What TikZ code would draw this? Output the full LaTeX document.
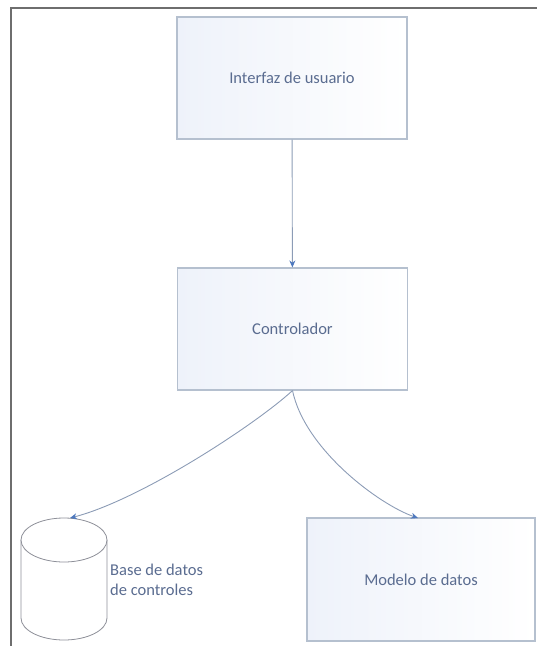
\documentclass[tikz,border=0pt]{standalone}
\usepackage{fontspec}
\setmainfont{Carlito}
\usetikzlibrary{arrows.meta}

\definecolor{frameGray}{HTML}{6E6E6E}
\definecolor{boxEdge}{HTML}{B5C0CF}
\definecolor{boxTint}{HTML}{EEF2FA}
\definecolor{labelBlue}{HTML}{5A6C90}
\definecolor{linkLine}{HTML}{8C9CB6}
\definecolor{tipBlue}{HTML}{4D78BE}
\definecolor{dbEdge}{HTML}{8E9099}

\tikzset{
  block/.style={draw=boxEdge, line width=1.1pt, left color=boxTint, right color=white,
    minimum width=230pt, minimum height=122pt, inner sep=0pt,
    text=labelBlue, font=\fontsize{16.5}{20}\selectfont},
  link/.style={draw=linkLine, line width=0.9pt,
    -{Stealth[length=7pt, width=6pt, color=tipBlue, fill=tipBlue]}},
  storeline/.style={draw=dbEdge, line width=0.8pt, fill=white},
  storelabel/.style={text=labelBlue, font=\fontsize{16.5}{20}\selectfont, align=left,
    anchor=west, inner sep=0pt}
}

\begin{document}
\begin{tikzpicture}[x=1pt, y=-1pt]
  \useasboundingbox (0,0) rectangle (537,646);

  % window edge
  \draw[frameGray, line width=2pt] (10.5,646) -- (10.5,7.5) -- (537,7.5);

  % blocks
  \node[block] (ui)   at (292,78)    {Interfaz de usuario};
  \node[block] (ctrl) at (292.5,329) {Controlador};
  \node[block, minimum width=228pt, minimum height=123pt] (model) at (421,579.5) {Modelo de datos};

  % controls database: a cylinder with its top end at y=540
  \path[storeline] (21,540) -- (21,618)
    arc[start angle=180, end angle=0, x radius=43, y radius=22] -- (107,540);
  \draw[storeline] (64,540) ellipse[x radius=43, y radius=22];
  \coordinate (db) at (64,579);
  \node[storelabel] (dblabel) at (110,580) {Base de datos\\de controles};

  % connectors
  \coordinate (dbtop) at (70,518);
  \coordinate (modeltop) at (418,518);
  \draw[link] (ui) -- (ctrl);
  \draw[link] (ctrl.south) .. controls (255,425) and (140,500) .. (dbtop);
  \draw[link] (ctrl.south) .. controls (305,450) and (380,505) .. (modeltop);
\end{tikzpicture}
\end{document}
